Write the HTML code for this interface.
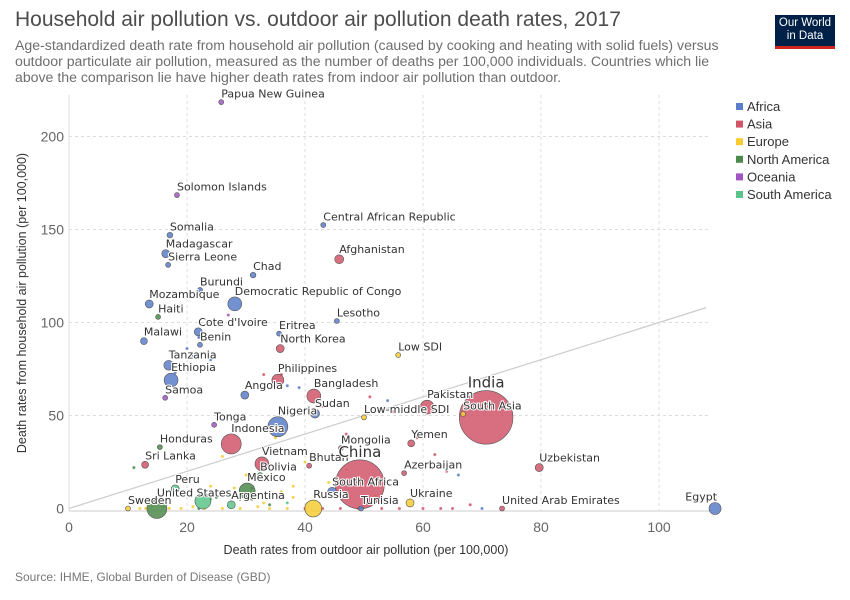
<!DOCTYPE html>
<html><head><meta charset="utf-8">
<style>
body{margin:0;background:#fff;font-family:"Liberation Sans",sans-serif;}
#wrap{position:relative;width:850px;height:600px;overflow:hidden;}
.title{position:absolute;left:15px;top:8px;font-size:21px;color:#4d4d4d;}
.sub{position:absolute;left:15px;top:37px;width:716px;font-size:14.1px;line-height:16px;color:#6e6e6e;}
.logo{position:absolute;left:775px;top:15px;width:60px;height:34px;background:#002147;color:#fff;font-size:11.5px;line-height:13px;text-align:center;padding-top:2px;box-sizing:border-box;border-bottom:3px solid #ce261e;}
.src{position:absolute;left:15px;top:570px;font-size:12px;color:#777;}
</style></head><body>
<div id="wrap">
<div class="title">Household air pollution vs. outdoor air pollution death rates, 2017</div>
<div class="sub">Age-standardized death rate from household air pollution (caused by cooking and heating with solid fuels) versus outdoor particulate air pollution, measured as the number of deaths per 100,000 individuals. Countries which lie above the comparison lie have higher death rates from indoor air pollution than outdoor.</div>
<div class="logo">Our World<br>in Data</div>
<svg id="chart" width="850" height="600" style="position:absolute;left:0;top:0"></svg>
<div class="src">Source: IHME, Global Burden of Disease (GBD)</div>
</div>
<script>
const regions=["Africa","Asia","Europe","North America","Oceania","South America"];
const regionColors=["#5b7ec8","#d0566a","#f5cc32","#4c8a4b","#a055c2","#5cc48a"];
const xTicks=[0,20,40,60,80,100];
const yTicks=[0,50,100,150,200];
const names=["Papua New Guinea","Solomon Islands","Central African Republic","Somalia","Madagascar","Sierra Leone","Afghanistan","Chad","Burundi","Mozambique","Democratic Republic of Congo","Haiti","Lesotho","Cote d'Ivoire","Eritrea","Malawi","Benin","North Korea","Low SDI","Tanzania","Ethiopia","Philippines","Bangladesh","Angola","Samoa","Sudan","Pakistan","Low-middle SDI","India","South Asia","Nigeria","Tonga","Indonesia","Honduras","Mongolia","Yemen","Sri Lanka","Vietnam","Bhutan","China","Azerbaijan","Uzbekistan","Bolivia","Mexico","Peru","South Africa","Ukraine","United States","Argentina","Russia","Tunisia","Sweden","United Arab Emirates","Egypt",""];
const xVals=[25.8,18.3,43.1,17.1,16.4,16.8,45.8,31.2,22.2,13.6,28.1,15.1,45.4,21.9,35.6,12.7,22.2,35.8,55.8,16.9,17.3,35.4,41.5,29.8,16.3,41.7,60.7,50,70.7,66.8,35.4,24.6,27.5,15.4,46.1,58,12.9,32.7,40.7,49.3,56.8,79.7,32.4,30.2,18,44.6,57.8,14.9,27.5,41.4,49.5,10,73.4,109.5,22.7];
const yVals=[218.5,168.5,152.4,147,137,131,134,125.5,117.5,110,110,103,100.8,95,94,90,88,86,82.5,77,69,69,60.5,61,59.5,51,54.5,49,49,50.8,44,45,34.7,33,32.5,35,23.5,24,23,13,19,22,18,9.4,10.5,9,3,0,2,0,0,0,0,0,4];
const regionIdx=[4,4,0,0,0,0,1,0,0,0,0,3,0,0,0,0,0,1,2,0,0,1,1,0,4,0,1,2,1,2,0,4,1,3,1,1,1,1,1,1,1,1,5,3,5,0,2,3,5,2,0,2,1,0,5];
const pop=[1,0.5,1,2,4,1,5,2,1.5,4,12,1.5,0.3,4,0.7,3,1.5,4,0.3,6,12,9,12,4,0.3,5,12,0.3,180,0.3,25,0.2,25,1.3,0.5,3,3,12,0.2,150,1.5,4,1.5,16,4,5,4,25,4,18,1,1,1.5,9,16];
const bigLabel=["India","China"];
// unlabeled extra countries
const exX=[20,21,24,22,18,27,33,36,37,39,43,47,51,54,55,59,62,64,66,68,24,26,28,30,35,38,40,44,47,52,25,31,34,37,11,14,16,19,21,23,26,29,32,34,37,40,43,46,49,53,56,60,63,65,70,12,13,17,22,24,27,29,31,33,36,38];
const exY=[86,82,80,92,73,104,72,72,66,65,55,40,60,58,52,38,29,20,18,2,12,28,11,18,38,12,25,14,21,7,6,5,2,3,22,1,1,0,1,0,0,0,1,0,0,0,0,0,0,0,0,0,0,0,0,0,0,0,0,5,8,5,11,3,9,6];
const exR=[0,0,0,0,0,4,1,1,0,0,1,1,1,0,1,1,1,1,0,1,2,2,2,2,2,2,2,2,2,2,3,3,3,5,3,2,2,2,2,2,2,2,2,2,2,1,1,1,1,1,1,1,1,1,0,2,2,2,3,5,5,3,3,2,2,2];

const svg=document.getElementById('chart');const NS="http://www.w3.org/2000/svg";
const X=v=>69+v*5.9, Y=v=>508.5-v*1.86;
function mk(t,a,p){const e=document.createElementNS(NS,t);for(const k in a)e.setAttribute(k,a[k]);(p||svg).appendChild(e);return e;}
xTicks.forEach(t=>{
 if(t>0){const g=mk('line',{x1:X(t),x2:X(t),y1:95,y2:511,stroke:'#ddd','stroke-dasharray':'3,3'});
 
 }
 const l=mk('text',{x:X(t),y:532,'text-anchor':'middle','font-size':14,fill:'#666'});l.textContent=t;
 
 
});
yTicks.forEach(t=>{
 if(t>0){const g=mk('line',{x1:69,x2:710,y1:Y(t),y2:Y(t),stroke:'#ddd','stroke-dasharray':'3,3'});
 
 }
 const l=mk('text',{x:64,y:Y(t)+5,'text-anchor':'end','font-size':14,fill:'#666'});l.textContent=t;
 
 
});
const ax=mk('line',{x1:69,x2:710,y1:511,y2:511,stroke:'#ccc'});


const ay=mk('line',{x1:69,x2:69,y1:95,y2:511,stroke:'#ddd'});


const diag=mk('line',{x1:X(0),y1:Y(0),x2:X(108),y2:Y(108),stroke:'#ccc','stroke-width':1.2});


const xt=mk('text',{x:366,y:554,'text-anchor':'middle','font-size':12.5,fill:'#333'});xt.textContent='Death rates from outdoor air pollution (per 100,000)';


const yt=mk('text',{x:0,y:0,'text-anchor':'middle','font-size':12.5,fill:'#333',transform:'translate(26,303) rotate(-90)'});yt.textContent='Death rates from household air pollution (per 100,000)';


exX.forEach((v,i)=>{const c=mk('circle',{cx:X(v),cy:Y(exY[i]),r:1.6,fill:regionColors[exR[i]],stroke:'#fff','stroke-width':0.3,opacity:0.9});
 
 });
const order=names.map((n,i)=>i).sort((a,b)=>pop[b]-pop[a]);
order.forEach(i=>{const r=Math.max(2.5,Math.sqrt(pop[i])*2);
 const c=mk('circle',{cx:X(xVals[i]),cy:Y(yVals[i]),r:r,fill:regionColors[regionIdx[i]],stroke:'#555','stroke-width':0.6,'fill-opacity':0.85});
 
 });
names.forEach((n,i)=>{if(!n)return;const r=Math.max(2.5,Math.sqrt(pop[i])*2);const big=bigLabel.includes(n);
 let x=X(xVals[i]),y=Y(yVals[i])-r-2,anchor='start';
 if(big){x=X(xVals[i]);anchor='middle';y=Y(yVals[i])-r-3;}
 if(n=="Egypt"){anchor='end';x=X(xVals[i])+2;}
 const t=mk('text',{x:x,y:y,'text-anchor':anchor,'font-size':big?15:11,'font-family':'DejaVu Sans, sans-serif',fill:'#333',stroke:'#fff','stroke-width':2,'paint-order':'stroke'});t.textContent=n;
 
 });
regions.forEach((r,i)=>{const y=107+i*17.6;
 const s=mk('rect',{x:736,y:y-4,width:7,height:7,fill:regionColors[i]});
 
 
 const t=mk('text',{x:747,y:y+4,'font-size':13,fill:'#333'});t.textContent=r;
 
 });
</script>
</body></html>
